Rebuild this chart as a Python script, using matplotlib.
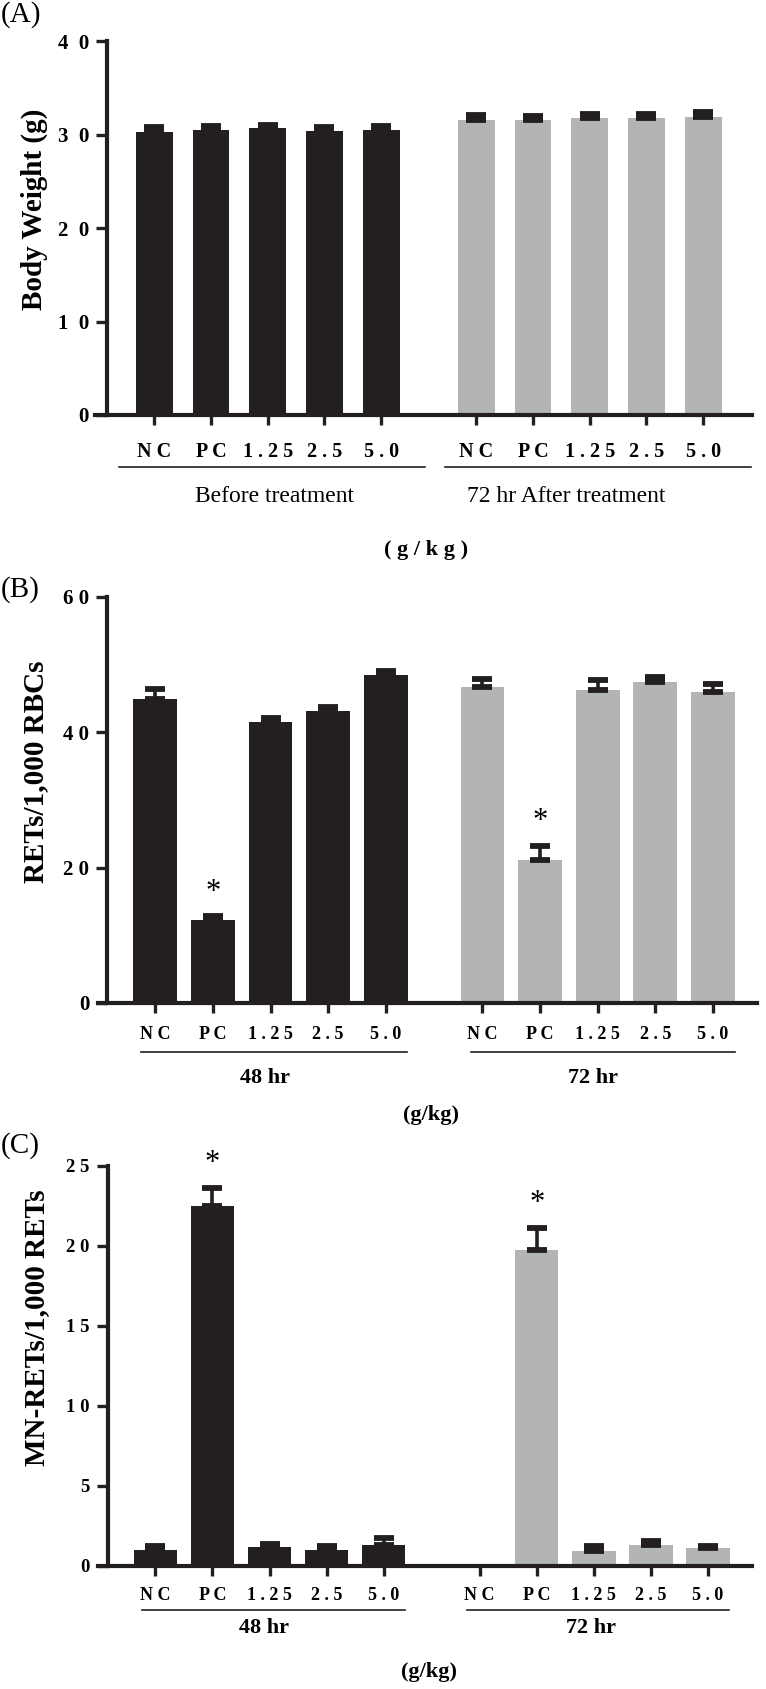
import matplotlib.pyplot as plt
import matplotlib.transforms as mtransforms
import numpy as np

plt.rcParams['font.family'] = ['Liberation Serif', 'DejaVu Serif']

# data
doses = ['NC', 'PC', '1.25', '2.5', '5.0']

bw_before = [30.3, 30.5, 30.7, 30.4, 30.5]
bw_before_err = [0.5, 0.45, 0.35, 0.4, 0.4]
bw_after = [31.55, 31.55, 31.75, 31.75, 31.85]
bw_after_err = [0.55, 0.4, 0.4, 0.4, 0.6]

ret_48 = [45.0, 12.3, 41.6, 43.1, 48.5]
ret_48_err = [1.4, 0.5, 0.55, 0.6, 0.5]
ret_72 = [46.7, 21.2, 46.2, 47.5, 46.0]
ret_72_err = [1.2, 2.0, 1.5, 0.7, 1.1]

mn_48 = [1.0, 22.5, 1.18, 1.0, 1.3]
mn_48_err = [0.2, 1.15, 0.15, 0.2, 0.4]
mn_72 = [0.0, 19.75, 0.92, 1.3, 1.1]
mn_72_err = [0.0, 1.4, 0.3, 0.25, 0.15]

# significance marks (visual centre of the asterisk)
stars_ret = [(1, 17.4), (6.68, 27.9)]
stars_mn = [(1, 25.6), (6.68, 23.1)]

BLACK = '#231f20'
GRAY = '#b3b4b6'
W, H = 766, 1689
GAP = 5.68

fig = plt.figure(figsize=(W / 100, H / 100), dpi=100)


def make_axes(left, right, y0, ytop, xc, unit):
    ax = fig.add_axes([left / W, (H - y0) / H, (right - left) / W, (y0 - ytop) / H])
    ax.set_xlim((left - xc) / unit, (right - xc) / unit)
    return ax


def panel(ax, spine_x, v1, e1, v2, e2, ymax, yticks, ylabels, width, xlabels, fs_tick, fs_ytick,
          ylab, ylab_pos, tag, tag_y, groups, group_lines, group_y, group_bold,
          unit_y, y0, ytop, stars, tick_pad):
    x1 = np.arange(5)
    x2 = x1 + GAP
    ax.bar(x1, v1, width=width, color=BLACK, zorder=1)
    ax.bar(x2, v2, width=width, color=GRAY, zorder=1)
    for x, v, e in ((x1, v1, e1), (x2, v2, e2)):
        x = np.array(x); v = np.array(v); e = np.array(e)
        m = e > 0
        ax.errorbar(x[m], v[m], yerr=[np.zeros(m.sum()), e[m]], fmt='none', ecolor=BLACK,
                    elinewidth=2.6, capsize=7, capthick=4.2, zorder=2)
    ax.set_ylim(0, ymax)
    for s in ('top', 'right'):
        ax.spines[s].set_visible(False)
    ax.spines['left'].set_position(('data', spine_x))
    ax.spines['left'].set_linewidth(3)
    ax.spines['bottom'].set_linewidth(3)
    ax.spines['left'].set_color(BLACK)
    ax.spines['bottom'].set_color(BLACK)
    ax.set_yticks(yticks)
    ax.set_yticklabels(ylabels, fontsize=fs_ytick, fontweight='bold')
    ax.set_xticks(np.concatenate([x1, x2]))
    ax.set_xticklabels(xlabels + xlabels, fontsize=fs_tick, fontweight='bold')
    ax.tick_params(axis='y', length=8, width=2.4, pad=5, color=BLACK)
    ax.tick_params(axis='x', length=7.5, width=2.4, pad=tick_pad, color=BLACK)

    def fy(p):
        return (y0 - p) / (y0 - ytop)

    for (a, b) in group_lines:
        ax.plot([a, b], [fy(group_y[0])] * 2, color=BLACK, lw=1.2,
                transform=ax.get_xaxis_transform(), clip_on=False)
    for (gx, gt) in groups:
        ax.text(gx, fy(group_y[1]), gt, ha='center', va='center',
                fontsize=17 if not group_bold else 16,
                fontweight='bold' if group_bold else 'normal',
                transform=ax.get_xaxis_transform())
    ax.text(2.5 + GAP / 2 - 0.55, fy(group_y[2]), unit_y, ha='center', va='center',
            fontsize=16, fontweight='bold', transform=ax.get_xaxis_transform())
    star_tr = mtransforms.offset_copy(ax.transData, fig=fig, y=-14.5, units='dots')
    for (sx, sy) in stars:
        ax.text(sx, sy, '*', ha='center', va='baseline', fontsize=22, clip_on=False,
                transform=star_tr)
    fig.text(ylab_pos[0] / W, 1 - ylab_pos[1] / H, ylab, rotation=90, ha='center', va='center',
             fontsize=21, fontweight='bold')
    fig.text(1 / W, 1 - tag_y / H, tag, ha='left', va='top', fontsize=21)


# (A)
axA = make_axes(95, 752, 415, 41, 154.3, 56.7)
panel(axA, (107 - 154.3) / 56.7, bw_before, bw_before_err, bw_after, bw_after_err, 40,
      [0, 10, 20, 30, 40], ['0', '1  0', '2  0', '3  0', '4  0'], 0.65,
      ['N C', 'P C', '1 . 2 5', '2 . 5', '5 . 0'], 14.5, 15,
      'Body Weight (g)', (34, 209), '(A)', 1,
      [(2.12, 'Before treatment'), (7.27, '72 hr After treatment')],
      [(-0.63, 4.78), (5.13, 10.53)], (467.3, 496.7, 550), False,
      '( g / k g )', 415, 41, [], 12)

# (B)
axB = make_axes(98, 757, 1003, 597, 155.3, 57.6)
panel(axB, (107.3 - 155.3) / 57.6, ret_48, ret_48_err, ret_72, ret_72_err, 60,
      [0, 20, 40, 60], ['0', '2 0', '4 0', '6 0'], 0.76,
      ['N C', 'P C', '1 . 2 5', '2 . 5', '5 . 0'], 13, 15,
      'RETs/1,000 RBCs', (36, 772), '(B)', 576,
      [(1.9, '48 hr'), (1.92 + GAP, '72 hr')],
      [(-0.24, 4.37), (GAP - 0.2, GAP + 4.38)], (1051.7, 1078, 1115), True,
      '(g/kg)', 1003, 597, stars_ret, 9)

# (C)
axC = make_axes(98, 752, 1565.5, 1166, 155.3, 57.1)
panel(axC, (107.7 - 155.3) / 57.1, mn_48, mn_48_err, mn_72, mn_72_err, 25,
      [0, 5, 10, 15, 20, 25], ['0', '5', '1 0', '1 5', '2 0', '2 5'], 0.76,
      ['N C', 'P C', '1 . 2 5', '2 . 5', '5 . 0'], 13, 13.5,
      'MN-RETs/1,000 RETs', (37, 1328), '(C)', 1132,
      [(1.9, '48 hr'), (1.95 + GAP, '72 hr')],
      [(-0.24, 4.37), (GAP - 0.22, GAP + 4.37)], (1610, 1628, 1672), True,
      '(g/kg)', 1565.5, 1166, stars_mn, 8)

fig.savefig('out.png', dpi=100)
